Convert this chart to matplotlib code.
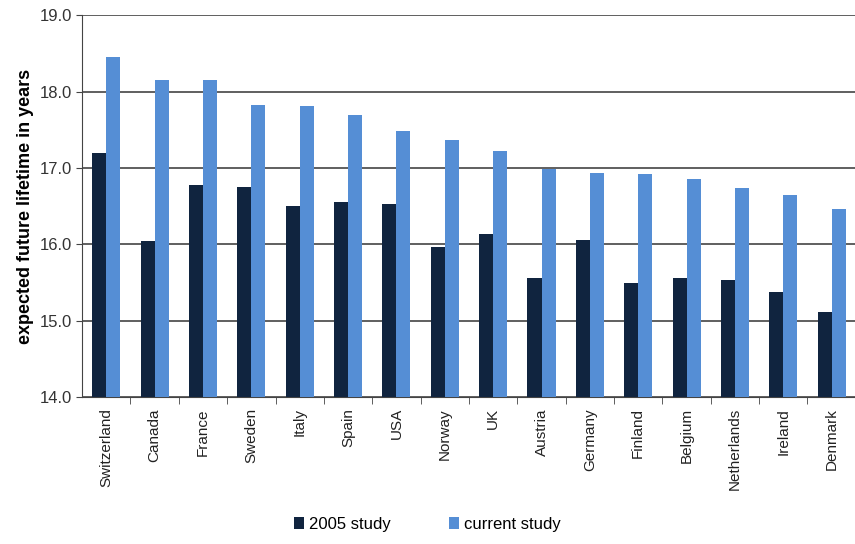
import matplotlib.pyplot as plt
import numpy as np

plt.rcParams['font.family'] = ['Liberation Sans', 'DejaVu Sans']

countries = ['Switzerland', 'Canada', 'France', 'Sweden', 'Italy', 'Spain', 'USA',
             'Norway', 'UK', 'Austria', 'Germany', 'Finland', 'Belgium',
             'Netherlands', 'Ireland', 'Denmark']
study_2005 = [17.19, 16.05, 16.78, 16.75, 16.50, 16.56, 16.53,
              15.96, 16.13, 15.56, 16.06, 15.49, 15.56, 15.53, 15.37, 15.11]
study_current = [18.45, 18.15, 18.15, 17.82, 17.81, 17.69, 17.48,
                 17.37, 17.22, 16.99, 16.94, 16.92, 16.85, 16.74, 16.65, 16.46]
yticks = [14.0, 15.0, 16.0, 17.0, 18.0, 19.0]

dark = '#10243f'
light = '#558ed5'

fig = plt.figure(figsize=(8.55, 5.44), dpi=100)
ax = fig.add_axes([0.096, 0.27, 0.905, 0.702])

x = np.arange(len(countries))
w = 0.29
ax.bar(x - w / 2, study_2005, w, color=dark, label='2005 study', zorder=3)
ax.bar(x + w / 2, study_current, w, color=light, label='current study', zorder=3)

ax.set_ylim(14.0, 19.0)
ax.set_xlim(-0.5, len(countries) - 0.5)
ax.set_yticks(yticks)
ax.set_yticklabels(['%.1f' % t for t in yticks], fontsize=12, color='#333333')
ax.yaxis.grid(True, color='#444444', linewidth=1.2, zorder=0)

ax.set_xticks(x)
ax.set_xticklabels(countries, rotation=90, fontsize=11, color='#222222')
ax.set_xticks(np.arange(len(countries)) + 0.5, minor=True)
ax.tick_params(axis='x', which='major', length=0, pad=8)
ax.tick_params(axis='x', which='minor', length=5, direction='out', color='#444444')
ax.tick_params(axis='y', length=4, direction='out', color='#444444')

for s in ['top', 'right']:
    ax.spines[s].set_visible(False)
ax.spines['left'].set_color('#444444')
ax.spines['bottom'].set_color('#444444')

ax.set_ylabel('expected future lifetime in years', fontsize=13, fontweight='bold', labelpad=4)

fig.legend(loc='lower center', bbox_to_anchor=(0.5, -0.005), ncol=2, frameon=False,
           fontsize=12, handlelength=0.6, handleheight=0.8, columnspacing=3.5,
           handletextpad=0.3)

fig.savefig('out.png', dpi=100)
